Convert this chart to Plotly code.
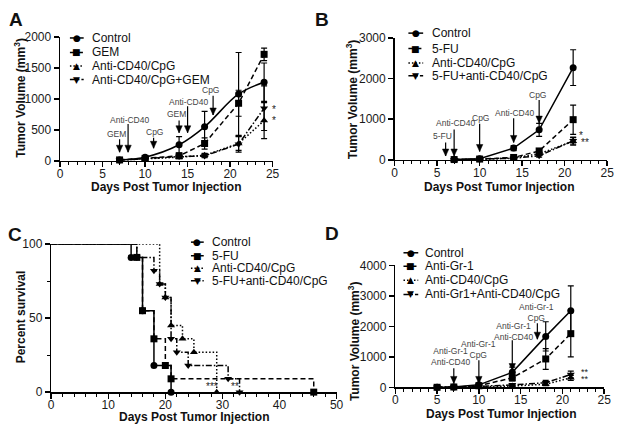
import plotly.graph_objects as go

W, H = 624, 433
FONT = "Liberation Sans, Arial, sans-serif"

# ---------------- DATA ----------------
# Panel A
days_a = [7, 10, 14, 17, 21, 24]
a_control = [15, 60, 260, 550, 1080, 1270]
a_control_err = [5, 20, 130, 250, 670, 310]
a_gem = [15, 40, 80, 280, 930, 1720]
a_gem_err = [5, 10, 30, 90, 210, 100]
a_cd40 = [10, 30, 60, 90, 280, 650]
a_cd40_err = [3, 8, 20, 30, 110, 290]
a_combo = [10, 35, 70, 80, 270, 850]
a_combo_err = [3, 8, 25, 30, 130, 360]
a_names = ["Control", "GEM", "Anti-CD40/CpG", "Anti-CD40/CpG+GEM"]
a_tx_days = [7, 8, 11, 14, 15, 18]
a_tx_labels = ["GEM", "Anti-CD40", "CpG", "GEM", "Anti-CD40", "CpG"]
a_stars = ["*", "*"]

# Panel B
days_b = [7, 10, 14, 17, 21]
b_control = [10, 30, 290, 740, 2270]
b_control_err = [5, 10, 60, 160, 440]
b_5fu = [8, 20, 60, 220, 990]
b_5fu_err = [3, 8, 15, 60, 360]
b_cd40 = [5, 15, 50, 150, 460]
b_cd40_err = [2, 5, 10, 40, 100]
b_combo = [5, 15, 40, 100, 470]
b_combo_err = [2, 5, 10, 30, 80]
b_names = ["Control", "5-FU", "Anti-CD40/CpG", "5-FU+anti-CD40/CpG"]
b_tx_days = [6, 7, 10, 14, 17]
b_tx_labels = ["5-FU", "Anti-CD40", "CpG", "Anti-CD40", "CpG"]
b_stars = ["*", "**"]

# Panel C (Kaplan-Meier, percent survival)
c_control_t = [0, 14, 16, 18, 21]
c_control_s = [100, 91, 55, 18, 0]
c_5fu_t = [0, 15, 16, 18, 20, 21, 46]
c_5fu_s = [100, 91, 55, 36, 18, 9, 0]
c_cd40_t = [0, 19, 20, 21, 23, 25, 29]
c_cd40_s = [100, 73, 64, 45, 36, 27, 0]
c_combo_t = [0, 15, 18, 19, 20, 21, 22, 24, 31, 33]
c_combo_s = [100, 91, 82, 73, 64, 36, 27, 18, 9, 0]
c_names = ["Control", "5-FU", "Anti-CD40/CpG", "5-FU+anti-CD40/CpG"]
c_stars = ["***", "**"]

# Panel D
days_d = [5, 7, 10, 14, 18, 21]
d_control = [0, 10, 80, 490, 1670, 2510]
d_control_err = [0, 5, 30, 170, 480, 820]
d_gr1 = [0, 10, 50, 310, 930, 1760]
d_gr1_err = [0, 5, 20, 100, 340, 760]
d_cd40 = [0, 5, 20, 40, 100, 310]
d_cd40_err = [0, 2, 5, 15, 50, 80]
d_combo = [0, 5, 30, 80, 150, 420]
d_combo_err = [0, 2, 10, 30, 80, 110]
d_names = ["Control", "Anti-Gr-1", "Anti-CD40/CpG", "Anti-Gr1+Anti-CD40/CpG"]
d_tx_days = [7, 10, 14, 17]
d_tx_labels = ["Anti-Gr-1<br>Anti-CD40", "Anti-Gr-1<br>CpG", "Anti-Gr-1<br>Anti-CD40", "Anti-Gr-1<br>CpG"]
d_stars = ["**", "**"]

# ---------------- STYLE ----------------
SYMS = ["circle", "square", "triangle-up", "triangle-down"]
GLYPHS = ["\u25CF", "\u25A0", "\u25B2", "\u25BC"]
DASHES = ["solid", "5px,3px", "1.5px,2px", "6px,2px,1.5px,2px"]

fig = go.Figure()


def px_x(p):
    return p / W


def px_y(p):
    return 1 - p / H


def axis(domain, rng, dtick, anchor, minor=None, is_x=False):
    d = dict(domain=domain, range=rng, dtick=dtick, tick0=0, showline=True,
             linecolor="black", linewidth=1.5, ticks="outside", ticklen=5,
             tickwidth=1.5, tickcolor="black", showgrid=False, zeroline=False,
             tickfont=dict(size=12, color="#1a1a1a", family=FONT),
             anchor=anchor, fixedrange=True)
    if is_x:
        d["ticklabelstandoff"] = -4
    if minor:
        d["minor"] = dict(dtick=minor, tick0=0, ticklen=3, tickwidth=1,
                          tickcolor="black", ticks="outside", showgrid=False)
    return d


def add_series(xs, ys, err, name, i, xa, ya, shape="linear"):
    fig.add_trace(go.Scatter(
        x=xs, y=ys, name=name, mode="lines+markers",
        line=dict(color="black", width=1.5, dash=DASHES[i], shape=shape),
        marker=dict(symbol=SYMS[i], size=7, color="black"),
        error_y=dict(type="data", array=err, visible=True, color="black",
                     thickness=1.2, width=3),
        xaxis=xa, yaxis=ya, showlegend=False, cliponaxis=False))


def add_legend(x0, x1, ys, xtext, names):
    for i, (y, name) in enumerate(zip(ys, names)):
        fig.add_shape(type="line", xref="paper", yref="paper",
                      x0=px_x(x0), x1=px_x(x1), y0=px_y(y), y1=px_y(y),
                      line=dict(color="black", width=1.5, dash=DASHES[i]))
        fig.add_annotation(xref="paper", yref="paper", x=px_x((x0 + x1) / 2),
                           y=px_y(y), text=GLYPHS[i], showarrow=False,
                           xanchor="center", yanchor="middle",
                           font=dict(size=9, color="black", family="DejaVu Sans"))
        fig.add_annotation(xref="paper", yref="paper", x=px_x(xtext), y=px_y(y),
                           text=name, showarrow=False, xanchor="left",
                           yanchor="middle",
                           font=dict(size=12, color="#111", family=FONT))


def add_arrows(days, labels, tails, tips, lab_x, lab_y, xr, yr):
    for d, lab, t, tp, lx, ly in zip(days, labels, tails, tips, lab_x, lab_y):
        # shaft
        fig.add_shape(type="line", xref=xr, yref=yr, x0=d, x1=d, y0=t, y1=tp,
                      line=dict(color="black", width=1.2))
        # head (pixel-sized triangle anchored at the tip)
        fig.add_shape(type="path", xref=xr, yref=yr, xsizemode="pixel",
                      ysizemode="pixel", xanchor=d, yanchor=tp,
                      path="M -3.2 7 L 3.2 7 L 0 0 Z",
                      fillcolor="black", line=dict(color="black", width=0.5))
        fig.add_annotation(x=lx, y=ly, xref=xr, yref=yr, text=lab,
                           showarrow=False, xanchor="center", yanchor="middle",
                           font=dict(size=8.5, color="#444", family=FONT))


def text(xp, yp, s, size=12, bold=True, angle=0, color="#111", xanchor="center"):
    fig.add_annotation(xref="paper", yref="paper", x=px_x(xp), y=px_y(yp),
                       text=f"<b>{s}</b>" if bold else s, showarrow=False,
                       textangle=angle, xanchor=xanchor, yanchor="middle",
                       font=dict(size=size, color=color, family=FONT))


def stars(xs, ys, labels, xr, yr, size=10):
    for x, y, s in zip(xs, ys, labels):
        fig.add_annotation(x=x, y=y, xref=xr, yref=yr, text=s, showarrow=False,
                           xanchor="left", yanchor="middle",
                           font=dict(size=size, color="#222", family=FONT))


# ---------------- PANEL A ----------------
for i, (ys, err) in enumerate([(a_control, a_control_err), (a_gem, a_gem_err),
                               (a_cd40, a_cd40_err), (a_combo, a_combo_err)]):
    add_series(days_a, ys, err, a_names[i], i, "x", "y",
               shape="spline" if i == 0 else "linear")
add_arrows(a_tx_days, a_tx_labels,
           [348, 594, 375, 651, 880, 1050], [140, 140, 203, 453, 453, 740],
           [6.6, 8.2, 11.1, 13.74, 15.1, 17.74], [437, 667, 458, 758, 948, 1141],
           "x", "y")
stars([24.7, 24.7], [830, 650], a_stars, "x", "y")
add_legend(68, 82, [32, 47, 61, 75], 88, a_names)

# ---------------- PANEL B ----------------
for i, (ys, err) in enumerate([(b_control, b_control_err), (b_5fu, b_5fu_err),
                               (b_cd40, b_cd40_err), (b_combo, b_combo_err)]):
    add_series(days_b, ys, err, b_names[i], i, "x2", "y2")
add_arrows(b_tx_days, b_tx_labels,
           [430, 745, 890, 1024, 1476], [95, 95, 207, 429, 905],
           [5.67, 7.18, 10.1, 14.1, 16.8], [579, 905, 1024, 1160, 1602],
           "x2", "y2")
stars([21.5, 21.7], [600, 430], b_stars, "x2", "y2")
add_legend(412, 427, [27, 43, 58, 71], 434, b_names)

# ---------------- PANEL C ----------------
for i, (t, s) in enumerate([(c_control_t, c_control_s), (c_5fu_t, c_5fu_s),
                            (c_cd40_t, c_cd40_s), (c_combo_t, c_combo_s)]):
    fig.add_trace(go.Scatter(x=t, y=s, mode="lines", name=c_names[i],
                             line=dict(color="black", width=1.5, dash=DASHES[i],
                                       shape="hv"),
                             xaxis="x3", yaxis="y3", showlegend=False,
                             cliponaxis=False))
    fig.add_trace(go.Scatter(x=t[1:], y=s[1:], mode="markers", name=c_names[i],
                             marker=dict(symbol=SYMS[i], size=7, color="black"),
                             xaxis="x3", yaxis="y3", showlegend=False,
                             cliponaxis=False))
stars([26.8, 31.2], [4, 4], c_stars, "x3", "y3")
add_legend(191, 204, [243, 257, 270, 283], 210, c_names)

# ---------------- PANEL D ----------------
for i, (ys, err) in enumerate([(d_control, d_control_err), (d_gr1, d_gr1_err),
                               (d_cd40, d_cd40_err), (d_combo, d_combo_err)]):
    add_series(days_d, ys, err, d_names[i], i, "x4", "y4")
add_arrows(d_tx_days, d_tx_labels,
           [625, 889, 1546, 2105], [127, 127, 549, 1578],
           [6.6, 9.9, 14.2, 16.86], [994, 1238, 1841, 2444],
           "x4", "y4")
stars([22.0, 22.0], [500, 280], d_stars, "x4", "y4", size=9)
add_legend(407, 422, [254, 268, 282.5, 297], 427, d_names)

# ---------------- TITLES / LABELS ----------------
text(13, 13, "A", size=19)
text(324, 13, "B", size=19)
text(12, 235, "C", size=19)
text(334, 234, "D", size=19)

ytitle = "Tumor Volume (mm<sup>3</sup>)"
text(17, 94, ytitle, angle=-90)
text(355, 95, ytitle, angle=-90)
text(18, 320, "Percent survival", angle=-90)
text(357, 345, ytitle, angle=-90)

xtitle = "Days Post Tumor Injection"
text(166, 186, xtitle)
text(504, 186, xtitle)
text(194, 424, xtitle)
text(506, 421, xtitle)

fig.update_layout(
    width=W, height=H, margin=dict(l=0, r=0, t=0, b=0),
    paper_bgcolor="white", plot_bgcolor="white",
    font=dict(family=FONT, color="#111"),
    showlegend=False,
    xaxis=axis([px_x(58), px_x(274)], [0, 25], 5, "y", minor=1, is_x=True),
    yaxis=axis([px_y(159), px_y(31)], [0, 2000], 500, "x"),
    xaxis2=axis([px_x(398), px_x(614)], [0, 25], 5, "y2", minor=1, is_x=True),
    yaxis2=axis([px_y(158), px_y(32)], [0, 3000], 1000, "x2"),
    xaxis3=axis([px_x(49), px_x(339)], [0, 50], 10, "y3", minor=2, is_x=True),
    yaxis3=axis([px_y(398), px_y(245)], [0, 100], 50, "x3", minor=25),
    xaxis4=axis([px_x(398.7), px_x(611)], [0, 25], 5, "y4", minor=1, is_x=True),
    yaxis4=axis([px_y(393), px_y(267)], [0, 4000], 1000, "x4"),
)

fig.write_html(
    "out.html",
    config={"displayModeBar": False, "staticPlot": True},
    post_script="document.body.style.margin='0';document.body.style.overflow='hidden';",
)
